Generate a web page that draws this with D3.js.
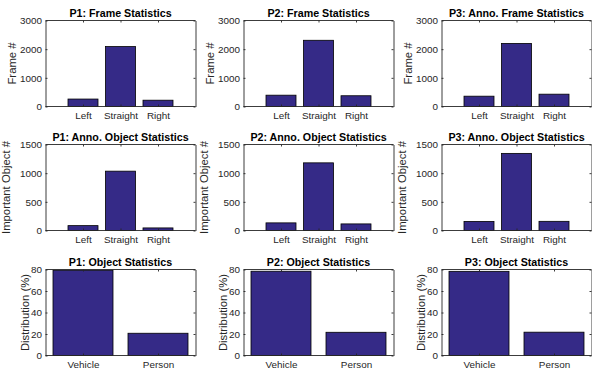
<!DOCTYPE html>
<html>
<head>
<meta charset="utf-8">
<script src="https://cdn.jsdelivr.net/npm/d3@7"></script>
<style>
  html, body { margin: 0; padding: 0; background: #fff; }
  svg { display: block; font-family: "Liberation Sans", Arial, Helvetica, sans-serif; }
</style>
</head>
<body>
<svg id="chart" width="592" height="370"></svg>
<script>
// ---- data ----
const dirCategories = ["Left", "Straight", "Right"];
const objCategories = ["Vehicle", "Person"];

const p1Frames = [260, 2090, 220];
const p2Frames = [395, 2310, 375];
const p3AnnoFrames = [360, 2200, 430];

const p1AnnoObjects = [85, 1035, 45];
const p2AnnoObjects = [133, 1180, 115];
const p3AnnoObjects = [158, 1345, 160];

const p1ObjectDist = [79.3, 20.7];
const p2ObjectDist = [78.4, 21.6];
const p3ObjectDist = [78.3, 21.7];

const frameTicks = [0, 1000, 2000, 3000];
const annoObjTicks = [0, 500, 1000, 1500];
const distTicks = [0, 20, 40, 60, 80];

const titles = [
  ["P1: Frame Statistics", "P2: Frame Statistics", "P3: Anno. Frame Statistics"],
  ["P1: Anno. Object Statistics", "P2: Anno. Object Statistics", "P3: Anno. Object Statistics"],
  ["P1: Object Statistics", "P2: Object Statistics", "P3: Object Statistics"]
];
const yLabels = ["Frame #", "Important Object #", "Distribution (%)"];

// ---- layout ----
const colLeft = [45.5, 243.5, 441.5];
const rowTop = [20.5, 144.5, 269.5];
const axW = 150, axH = 86;
const barColor = "#352A87";
const axisColor = "#262626";
const tickLen = 2;

const svg = d3.select("#chart");

const rows = [
  { cats: dirCategories, series: [p1Frames, p2Frames, p3AnnoFrames], ticks: frameTicks, outer: 0.6, ylabOff: 33 },
  { cats: dirCategories, series: [p1AnnoObjects, p2AnnoObjects, p3AnnoObjects], ticks: annoObjTicks, outer: 0.6, ylabOff: 39 },
  { cats: objCategories, series: [p1ObjectDist, p2ObjectDist, p3ObjectDist], ticks: distTicks, outer: 0.1, ylabOff: 20 }
];

rows.forEach((row, ri) => {
  row.series.forEach((vals, ci) => {
    const x0 = colLeft[ci], y0 = rowTop[ri];
    const g = svg.append("g").attr("transform", `translate(${x0},${y0})`);

    const x = d3.scaleBand().domain(row.cats).range([0, axW])
      .paddingInner(0.2).paddingOuter(row.outer);
    const y = d3.scaleLinear().domain([row.ticks[0], row.ticks[row.ticks.length - 1]]).range([axH, 0]);

    // bars
    g.selectAll("rect.bar").data(vals).join("rect")
      .attr("class", "bar")
      .attr("x", (d, i) => x(row.cats[i]))
      .attr("y", d => y(d))
      .attr("width", x.bandwidth())
      .attr("height", d => y(0) - y(d))
      .attr("fill", barColor)
      .attr("stroke", "#000")
      .attr("stroke-width", 0.8);

    const styleAxis = sel => {
      sel.select(".domain").attr("stroke", axisColor).attr("stroke-width", 0.9);
      sel.selectAll(".tick line").attr("stroke", axisColor).attr("stroke-width", 0.9);
      sel.selectAll(".tick text").attr("fill", axisColor).attr("font-size", "9.9px")
        .attr("font-family", '"Liberation Sans", Arial, Helvetica, sans-serif');
    };

    const xCenter = d3.scalePoint().domain(row.cats)
      .range([x(row.cats[0]) + x.bandwidth() / 2, x(row.cats[row.cats.length - 1]) + x.bandwidth() / 2]);

    // bottom axis
    const bottomAxis = d3.axisBottom(xCenter).tickSizeInner(-tickLen).tickSizeOuter(0).tickPadding(5.5);
    const gb = g.append("g").attr("transform", `translate(0,${axH})`).call(bottomAxis).call(styleAxis);
    gb.select(".domain").attr("d", `M0,0H${axW}`);

    // top axis (ticks only)
    const topAxis = d3.axisTop(xCenter).tickSizeInner(-tickLen).tickSizeOuter(0).tickFormat("");
    const gt = g.append("g").call(topAxis).call(styleAxis);
    gt.select(".domain").attr("d", `M0,0H${axW}`);

    // left axis
    const leftAxis = d3.axisLeft(y).tickValues(row.ticks).tickSizeInner(-tickLen).tickSizeOuter(0).tickPadding(3.5).tickFormat(d3.format("d"));
    g.append("g").call(leftAxis).call(styleAxis);

    // right axis (ticks only)
    const rightAxis = d3.axisRight(y).tickValues(row.ticks).tickSizeInner(-tickLen).tickSizeOuter(0).tickFormat("");
    g.append("g").attr("transform", `translate(${axW},0)`).call(rightAxis).call(styleAxis);

    // title
    g.append("text")
      .attr("x", axW / 2).attr("y", -3.5)
      .attr("text-anchor", "middle")
      .attr("font-size", "10.7px").attr("font-weight", "bold")
      .attr("fill", "#000")
      .text(titles[ri][ci]);

    // y label
    g.append("text")
      .attr("transform", `translate(${-row.ylabOff},${axH / 2}) rotate(-90)`)
      .attr("text-anchor", "middle")
      .attr("dy", "0.35em")
      .attr("font-size", "11.3px")
      .attr("fill", axisColor)
      .text(yLabels[ri]);
  });
});
</script>
</body>
</html>
